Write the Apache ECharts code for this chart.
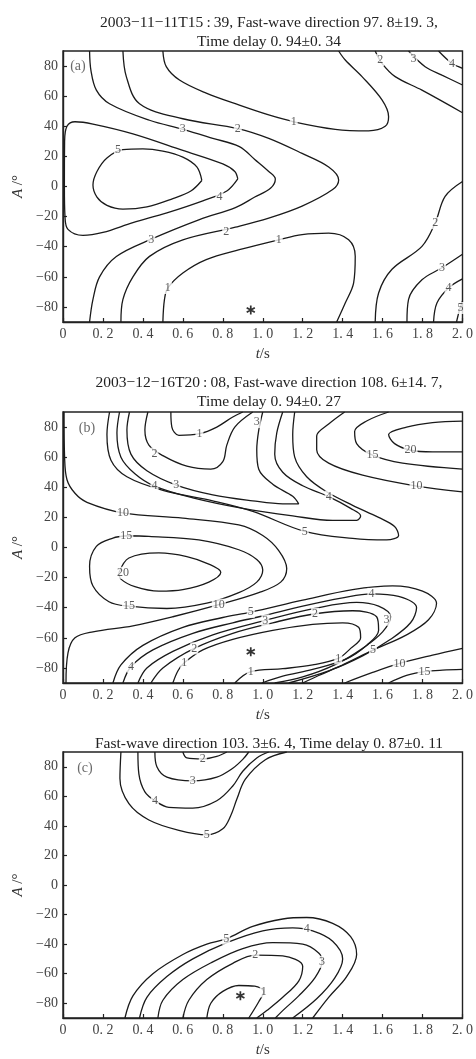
<!DOCTYPE html>
<html><head><meta charset="utf-8">
<script src="https://cdn.jsdelivr.net/npm/echarts@6/dist/echarts.min.js"></script>
<style>html,body{margin:0;padding:0;background:#fff}#c{width:476px;height:1059px}</style>
</head><body><div id="c"></div>
<script>
// ---------- tick values ----------
const tTicks = [0, 0.2, 0.4, 0.6, 0.8, 1.0, 1.2, 1.4, 1.6, 1.8, 2.0];
const aTicks = [-80, -60, -40, -20, 0, 20, 40, 60, 80];

// ---------- titles ----------
const titleA = ['2003\u221211\u221211T15\u2009:\u200939, Fast-wave direction 97. 8\u00b119. 3,', 'Time delay 0. 94\u00b10. 34'];
const titleB = ['2003\u221212\u221216T20\u2009:\u200908, Fast-wave direction 108. 6\u00b114. 7,', 'Time delay 0. 94\u00b10. 27'];
const titleC = ['Fast-wave direction 103. 3\u00b16. 4, Time delay 0. 87\u00b10. 11'];
const panelTags = ['(a)', '(b)', '(c)'];

// ---------- panel (a) contour lines: [t (s), A (deg)] ----------
const a_c5 = [[0.695,4],[0.67,13],[0.6,19.5],[0.5,23.5],[0.4,25],[0.3,24.5],[0.22,19],[0.17,10],[0.15,1],[0.17,-7],[0.22,-12.5],[0.3,-15],[0.42,-13.5],[0.55,-8],[0.64,-3],[0.695,4]];
const a_c4 = [[0.875,5],[0.86,10],[0.8,15],[0.6,24],[0.35,35],[0.15,41.5],[0.06,43],[0.02,40],[0.008,30],[0.007,0],[0.01,-20],[0.025,-28.5],[0.1,-32.5],[0.2,-30.5],[0.35,-24],[0.52,-17.5],[0.7,-9.5],[0.82,-3],[0.875,5]];
const a_c3 = [[0.133,90],[0.14,77],[0.167,64],[0.233,55],[0.433,44],[0.6,38],[0.75,32],[0.883,26.5],[0.96,18],[1.03,10],[1.063,5],[1.04,-1],[0.96,-7],[0.863,-14],[0.683,-22],[0.442,-35],[0.267,-46.5],[0.183,-60],[0.15,-75],[0.133,-90]];
const a_c2 = [[0.3,90],[0.317,73],[0.383,55],[0.6,45],[0.875,38.5],[1.03,32],[1.197,22],[1.33,13],[1.38,4.4],[1.35,-2],[1.197,-13],[1.03,-21],[0.863,-27],[0.6,-35.4],[0.433,-46.4],[0.35,-60],[0.3,-75],[0.29,-90]];
const a_c1u = [[0.5,90],[0.517,79.6],[0.583,70.7],[0.717,62],[0.883,54],[1.03,47.5],[1.155,43],[1.363,38],[1.53,37],[1.613,40],[1.63,46.4],[1.597,57.5],[1.497,73],[1.413,84],[1.38,90]];
const a_c1l = [[0.5,-90],[0.508,-75],[0.525,-67.4],[0.6,-57.5],[0.717,-48.6],[0.883,-42],[1.08,-35.4],[1.197,-32],[1.33,-31],[1.43,-35.4],[1.463,-46.4],[1.455,-64],[1.413,-77.4],[1.37,-90]];
const a_r2u = [[1.563,90],[1.597,81.8],[1.663,73],[1.797,64],[2.0,49]];
const a_r3u = [[1.73,90],[1.813,79.6],[1.897,74],[2.0,67.4]];
const a_r4u = [[1.88,90],[1.947,81.8],[2.0,78.5]];
const a_r2l = [[1.563,-90],[1.58,-70.7],[1.647,-55],[1.797,-39.8],[1.863,-24.3],[1.913,-6.6],[2.0,3.3]];
const a_r3l = [[1.722,-90],[1.73,-75],[1.797,-62],[1.897,-54],[2.0,-45]];
const a_r4l = [[1.855,-90],[1.872,-77.4],[1.93,-67.4],[2.0,-61.4]];
const a_r5l = [[1.97,-90],[1.985,-82],[2.0,-76]];
const a_labels = [[0.275,24.5,'5'],[0.6,38,'3'],[0.875,38.5,'2'],[1.155,43,'1'],[0.783,-6.6,'4'],[0.817,-29.8,'2'],[0.442,-35.4,'3'],[0.525,-67.4,'1'],[1.08,-35.4,'1'],[1.588,84,'2'],[1.755,85,'3'],[1.947,81.8,'4'],[1.863,-24.3,'2'],[1.897,-54,'3'],[1.93,-67.4,'4'],[1.99,-80.7,'5']];
const a_star = [[0.94,-82]];

// ---------- panel (b) ----------
const b_c10 = [[0.005,90],[0.008,60],[0.02,45],[0.06,36],[0.12,30],[0.3,23],[0.6,19.5],[0.88,15],[1.0,8],[1.08,-2],[1.12,-14],[1.09,-23],[0.98,-30],[0.78,-38],[0.55,-46],[0.35,-52],[0.15,-56],[0.06,-60],[0.025,-70],[0.015,-90]];
const b_c15 = [[0.317,7.8],[0.43,7.4],[0.68,5],[0.88,-1.5],[0.97,-8],[1.0,-15],[0.97,-23],[0.88,-30],[0.72,-37],[0.52,-40.5],[0.33,-39],[0.23,-36],[0.15,-25.6],[0.133,-12.4],[0.167,0.8],[0.25,6.3],[0.317,7.8]];
const b_c20 = [[0.28,-16.8],[0.33,-7],[0.48,-3.6],[0.62,-6],[0.73,-11],[0.79,-16.5],[0.73,-23],[0.6,-28],[0.48,-29],[0.36,-26],[0.29,-21],[0.28,-16.8]];
const b_u1 = [[0.54,90],[0.545,80],[0.58,74.5],[0.683,75.6],[0.77,80],[0.85,86.7],[0.9,90]];
const b_u2 = [[0.425,90],[0.41,78],[0.43,68],[0.5,61],[0.62,54],[0.74,52],[0.8,57],[0.82,68],[0.86,80],[0.95,90]];
const b_u3 = [[0.333,90],[0.32,78],[0.34,62],[0.42,51],[0.567,41.5],[0.75,35],[0.95,31],[1.1,29],[1.18,29],[1.15,34],[1.05,42],[0.98,52],[0.97,65],[0.98,78],[1.0,90]];
const b_u4 = [[0.283,90],[0.27,76],[0.29,60],[0.36,49],[0.458,40.8],[0.65,33],[0.9,26],[1.15,21],[1.35,18],[1.47,18],[1.49,21],[1.44,26],[1.33,33.8],[1.2,41],[1.1,50],[1.06,62],[1.07,76],[1.1,90]];
const b_u5 = [[0.233,90],[0.22,75],[0.24,58],[0.32,47],[0.5,38],[0.75,31],[0.95,24],[1.21,10.7],[1.45,6],[1.62,5],[1.68,8],[1.66,14],[1.58,20],[1.45,28],[1.32,37],[1.22,47],[1.16,60],[1.15,75],[1.16,90]];
const b_r10 = [[1.41,90],[1.33,82],[1.27,74],[1.27,65],[1.33,56],[1.5,48],[1.77,40.8],[2.0,37]];
const b_r15 = [[1.63,90],[1.52,84],[1.46,77],[1.47,69],[1.55,61.3],[1.7,56],[2.0,52]];
const b_r20 = [[2.0,84],[1.85,83],[1.72,80],[1.63,75],[1.66,69],[1.74,64.6],[1.85,63.5],[2.0,63.5]];
const b_l1 = [[0.55,-90],[0.575,-82],[0.607,-76.6],[0.7,-68],[0.85,-61],[1.05,-55],[1.25,-51],[1.4,-50],[1.48,-53],[1.49,-60],[1.44,-67],[1.378,-73.7],[1.25,-78],[1.1,-80.5],[0.94,-82.5],[0.86,-90]];
const b_l2 = [[0.44,-90],[0.5,-80],[0.657,-67],[0.85,-57],[1.05,-50],[1.262,-44],[1.45,-42],[1.57,-46],[1.58,-55],[1.52,-65],[1.42,-74],[1.25,-81],[1.1,-85.5],[0.996,-90]];
const b_l3 = [[0.375,-90],[0.42,-80],[0.55,-69],[0.75,-58],[1.013,-48.4],[1.26,-40.5],[1.47,-36.5],[1.58,-39],[1.64,-46],[1.6,-56],[1.5,-67],[1.36,-78],[1.2,-86],[1.06,-90]];
const b_l4 = [[0.30,-90],[0.34,-79.2],[0.45,-68],[0.65,-57],[0.85,-50],[1.0,-45.5],[1.2,-39],[1.4,-33.5],[1.544,-30.8],[1.68,-32.5],[1.77,-40],[1.74,-50],[1.64,-61],[1.5,-72],[1.33,-82],[1.13,-90]];
const b_l5 = [[0.25,-90],[0.29,-78],[0.4,-65],[0.6,-53],[0.8,-46.5],[0.94,-42.9],[1.2,-35],[1.45,-28],[1.65,-25.5],[1.8,-29],[1.87,-37],[1.83,-48],[1.72,-58],[1.552,-68.2],[1.4,-78],[1.28,-85],[1.2,-90]];
const b_lr10 = [[1.41,-90],[1.55,-83],[1.685,-77],[1.85,-71.5],[2.0,-67]];
const b_lr15 = [[1.63,-90],[1.72,-85],[1.81,-82.5],[1.9,-81.5],[2.0,-81]];
const b_labels = [[0.683,75.6,'1'],[0.458,62.4,'2'],[0.567,41.5,'3'],[0.458,40.8,'4'],[0.97,83.3,'3'],[1.33,33.8,'4'],[1.21,10.7,'5'],[0.3,23,'10'],[0.317,7.8,'15'],[0.33,-39,'15'],[0.78,-38,'10'],[0.3,-16.8,'20'],[1.74,64.6,'20'],[1.55,61.3,'15'],[1.77,40.8,'10'],[0.34,-79.2,'4'],[0.657,-67,'2'],[0.607,-76.6,'1'],[0.94,-42.9,'5'],[1.013,-48.4,'3'],[1.262,-44,'2'],[1.544,-30.8,'4'],[1.62,-48,'3'],[1.552,-68.2,'5'],[1.378,-73.7,'1'],[0.94,-82.5,'1'],[1.685,-77,'10'],[1.81,-82.5,'15']];
const b_star = [[0.94,-69.3]];

// ---------- panel (c) ----------
const c_u2 = [[0.6,90],[0.62,86],[0.7,85.3],[0.77,87],[0.82,90]];
const c_u3 = [[0.46,90],[0.47,80],[0.52,73],[0.65,70.5],[0.77,73],[0.85,79],[0.9,85],[0.93,90]];
const c_u4 = [[0.375,90],[0.38,75],[0.41,63],[0.46,57],[0.53,52.5],[0.65,52],[0.77,57],[0.85,67],[0.9,77],[0.97,86],[1.03,90]];
const c_u5 = [[0.29,90],[0.285,72],[0.33,55],[0.43,44],[0.58,37],[0.72,34],[0.8,38],[0.84,47],[0.87,58],[0.913,71.6],[1.013,84.8],[1.12,90]];
const c_l1 = [[0.72,-90],[0.74,-80],[0.8,-72],[0.88,-68],[0.96,-68.5],[1.005,-72],[0.98,-79],[0.93,-90]];
const c_l2 = [[0.6,-90],[0.63,-78],[0.72,-64],[0.85,-53],[0.963,-47.4],[1.1,-48],[1.2,-55],[1.18,-65],[1.1,-76],[1.02,-85],[0.97,-90]];
const c_l3 = [[0.475,-90],[0.5,-78],[0.6,-64],[0.75,-52],[0.9,-43],[1.05,-39],[1.2,-40],[1.28,-46],[1.297,-52],[1.26,-63],[1.18,-75],[1.1,-85],[1.063,-90]];
const c_l4 = [[0.383,-90],[0.42,-76],[0.52,-62],[0.65,-50],[0.82,-39],[1.0,-31],[1.15,-29],[1.25,-31],[1.35,-38],[1.4,-50],[1.36,-63],[1.27,-77],[1.15,-90]];
const c_l5 = [[0.31,-90],[0.35,-75],[0.45,-60],[0.6,-47],[0.72,-40],[0.817,-36.4],[0.95,-28],[1.1,-23],[1.22,-22],[1.35,-26],[1.44,-35],[1.47,-47],[1.42,-62],[1.33,-76],[1.25,-90]];
const c_labels = [[0.7,85.3,'2'],[0.65,70.5,'3'],[0.46,57,'4'],[0.72,34,'5'],[0.817,-36.4,'5'],[1.22,-30,'4'],[0.963,-47.4,'2'],[1.297,-52,'3'],[1.005,-72,'1']];
const c_star = [[0.888,-75]];

const panelTagPos = [[0.075,80],[0.12,79],[0.11,79]];

// ---------- chart ----------
const FONT = 'Liberation Serif';
const panels = [
  {lines:[a_c5,a_c4,a_c3,a_c2,a_c1u,a_c1l,a_r2u,a_r3u,a_r4u,a_r2l,a_r3l,a_r4l,a_r5l], labels:a_labels, star:a_star, top:51, height:271, title:titleA, titleTop:8},
  {lines:[b_c10,b_c15,b_c20,b_u1,b_u2,b_u3,b_u4,b_u5,b_r10,b_r15,b_r20,b_l1,b_l2,b_l3,b_l4,b_l5,b_lr10,b_lr15], labels:b_labels, star:b_star, top:412, height:271, title:titleB, titleTop:368},
  {lines:[c_u2,c_u3,c_u4,c_u5,c_l1,c_l2,c_l3,c_l4,c_l5], labels:c_labels, star:c_star, top:752, height:272, title:titleC, titleTop:729}
];

// asterisk symbol (three crossing bars)
const starPath = (function(){
  let s = '';
  const L = 6, W = 1.1;
  [90, 30, 150].forEach(function(deg){
    const r = deg*Math.PI/180, c = Math.cos(r), sn = Math.sin(r);
    const pts = [[-L,-W],[L,-W],[L,W],[-L,W]].map(function(p){return [(p[0]*c - p[1]*sn).toFixed(3),(p[0]*sn + p[1]*c).toFixed(3)];});
    s += 'M' + pts.map(function(p){return p[0]+','+p[1];}).join('L') + 'Z';
  });
  return 'path://' + s;
})();

const grid = [], xAxis = [], yAxis = [], series = [], title = [];
panels.forEach(function(p, i){
  grid.push({left:63, right:11, top:p.top, height:p.height, show:true, borderColor:'#222', borderWidth:1.4, backgroundColor:'#fff'});
  title.push({text:p.title.join('\n'), left:264, top:p.titleTop, textAlign:'center',
    textStyle:{fontFamily:FONT, fontSize:15.5, fontWeight:'normal', color:'#222', lineHeight:19}});
  xAxis.push({type:'value', gridIndex:i, min:0, max:2, interval:0.2,
    name:'{i|t}/s', nameLocation:'middle', nameGap:25,
    nameTextStyle:{fontFamily:FONT, fontSize:15, color:'#333', rich:{i:{fontFamily:FONT, fontStyle:'italic', fontSize:15, color:'#333'}}},
    axisLine:{show:true, onZero:false, lineStyle:{color:'#222', width:1.4}},
    axisTick:{show:true, inside:true, length:4, lineStyle:{color:'#222', width:1.2}},
    axisLabel:{show:true, margin:5, fontFamily:FONT, fontSize:14, color:'#444',
      formatter:function(v){ return v === 0 ? '0' : v.toFixed(1).replace('.', '. '); }},
    splitLine:{show:false}});
  yAxis.push({type:'value', gridIndex:i, min:-90, max:90,
    name:'{i|A} /\u00b0', nameLocation:'middle', nameGap:32, nameRotate:90,
    nameTextStyle:{fontFamily:FONT, fontSize:15, color:'#333', rich:{i:{fontFamily:FONT, fontStyle:'italic', fontSize:15, color:'#333'}}},
    axisLine:{show:true, onZero:false, lineStyle:{color:'#222', width:1.4}},
    axisTick:{show:true, inside:true, length:4, customValues:aTicks, lineStyle:{color:'#222', width:1.2}},
    axisLabel:{show:true, margin:5, fontFamily:FONT, fontSize:14, color:'#444', customValues:aTicks,
      formatter:function(v){ return v < 0 ? '\u2212' + Math.abs(v) : String(v); }},
    splitLine:{show:false}});
  p.lines.forEach(function(d){
    series.push({type:'line', xAxisIndex:i, yAxisIndex:i, data:d, smooth:0.35, symbol:'none', showSymbol:false,
      silent:true, animation:false, clip:true, z:2, lineStyle:{color:'#1a1a1a', width:1.3}});
  });
  series.push({type:'scatter', xAxisIndex:i, yAxisIndex:i, data:p.labels, symbol:'circle', symbolSize:1,
    itemStyle:{color:'rgba(0,0,0,0)'}, silent:true, animation:false, z:5,
    label:{show:true, position:'inside', formatter:function(q){return q.data[2];}, fontFamily:FONT, fontSize:12,
      color:'#333', backgroundColor:'#fff', padding:[0,1], lineHeight:12}});
  series.push({type:'scatter', xAxisIndex:i, yAxisIndex:i, data:p.star, symbol:starPath, symbolSize:9,
    itemStyle:{color:'#000'}, silent:true, animation:false, z:6});
  series.push({type:'scatter', xAxisIndex:i, yAxisIndex:i, data:[[panelTagPos[i][0], panelTagPos[i][1], panelTags[i]]],
    symbolSize:1, itemStyle:{color:'rgba(0,0,0,0)'}, silent:true, animation:false, z:6,
    label:{show:true, position:'inside', formatter:function(q){return q.data[2];}, fontFamily:FONT, fontSize:14, color:'#444'}});
});

const chart = echarts.init(document.getElementById('c'), null, {renderer:'canvas'});
chart.setOption({animation:false, backgroundColor:'#fff', title:title, grid:grid, xAxis:xAxis, yAxis:yAxis, series:series});
</script>
</body></html>
